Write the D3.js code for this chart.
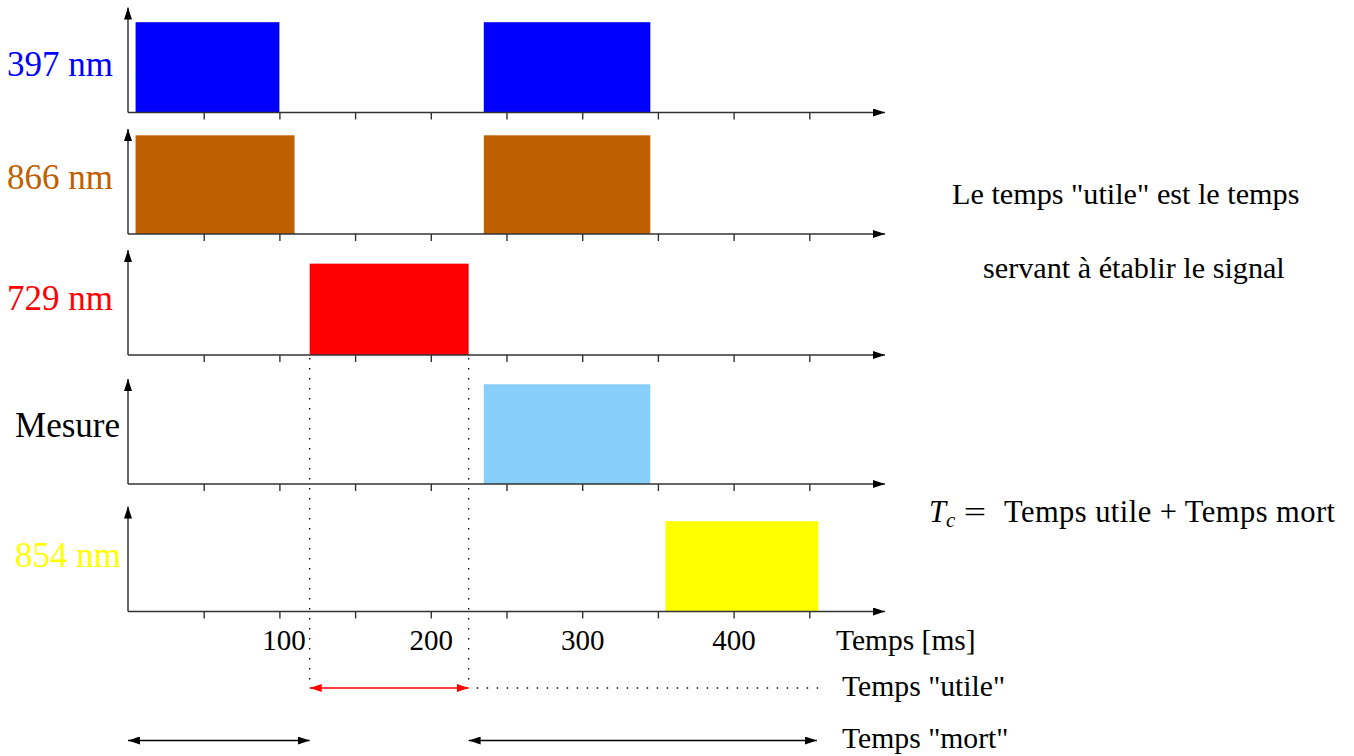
<!DOCTYPE html>
<html><head><meta charset="utf-8">
<script src="https://cdn.jsdelivr.net/npm/d3@7"></script>
<style>
html,body{margin:0;padding:0;background:#fff;}
svg{display:block;font-family:"Liberation Serif","Times New Roman",serif;}
</style></head>
<body><svg id="c" width="1354" height="756"></svg>
<script>
// ---- data ----
const channels = ["397 nm", "866 nm", "729 nm", "Mesure", "854 nm"];
const pulses397 = [[5, 100], [235, 345]];
const pulses866 = [[5, 110], [235, 345]];
const pulses729 = [[120, 225]];
const pulsesMesure = [[235, 345]];
const pulses854 = [[355, 456]];
const pulseLevels = [0.86, 0.94, 0.87, 0.95, 0.86];
const tickValues = [50, 100, 150, 200, 250, 300, 350, 400, 450];
const tickLabels = [100, 200, 300, 400];
const timeDomain = [0, 500];
const utileSpan = [120, 225];
const mortSpans = [[0, 120], [225, 455]];
const utileGuideEnd = 460;
const axisTitle = "Temps [ms]";
const utileLabel = 'Temps "utile"';
const mortLabel = 'Temps "mort"';
const noteLines = ['Le temps "utile" est le temps', 'servant à établir le signal'];
const formulaRhs = "Temps utile + Temps mort";

// ---- layout / style ----
const colors = ["#0000ff", "#bf6000", "#ff0000", "#87cefa", "#ffff00"];
const labelColors = ["#0000ff", "#bf6000", "#ff0000", "#000000", "#ffff00"];
const allPulses = [pulses397, pulses866, pulses729, pulsesMesure, pulses854];
const baselines = [112.5, 234, 355, 484, 611.5];
const panelH = 105;
const labelX = [113, 113, 113, 120, 121];
const labelDy = [-36.5, -45, -45, -47, -44.5];

const svg = d3.select("#c");
const x = d3.scaleLinear().domain(timeDomain).range([128, 885]);

const defs = svg.append("defs");
function marker(id, color, orientAuto) {
  defs.append("marker").attr("id", id)
    .attr("viewBox", "0 0 12 8").attr("refX", 12).attr("refY", 4)
    .attr("markerWidth", 12).attr("markerHeight", 8)
    .attr("markerUnits", "userSpaceOnUse")
    .attr("orient", orientAuto)
    .append("path").attr("d", "M0,0 L12,4 L0,8 Z").attr("fill", color);
}
marker("ah", "#000", "auto");
marker("ahs", "#000", "auto-start-reverse");
marker("rh", "#ff0000", "auto");
marker("rhs", "#ff0000", "auto-start-reverse");

channels.forEach((name, i) => {
  const b = baselines[i];
  const y = d3.scaleLinear().domain([0, 1]).range([b, b - panelH]);
  const g = svg.append("g");
  g.selectAll("rect").data(allPulses[i]).join("rect")
    .attr("x", d => x(d[0]))
    .attr("width", d => x(d[1]) - x(d[0]))
    .attr("y", y(pulseLevels[i]))
    .attr("height", y(0) - y(pulseLevels[i]))
    .attr("fill", colors[i]);
  const ax = d3.axisBottom(x).tickValues(tickValues).tickSize(7).tickSizeOuter(0)
    .tickFormat(d => (i === channels.length - 1 && tickLabels.includes(d)) ? d : "");
  const axg = g.append("g").attr("transform", `translate(0,${b})`).call(ax)
    .attr("font-family", '"Liberation Serif", serif').attr("font-size", 29);
  axg.select(".domain").remove();
  axg.selectAll(".tick line").attr("stroke", "#333").attr("stroke-width", 1.4);
  axg.selectAll(".tick text").attr("y", 38.5).attr("dy", null)
    .attr("dx", d => d === 100 ? 4 : 0).attr("fill", "#000");
  g.append("line").attr("x1", x(0)).attr("x2", x(timeDomain[1]))
    .attr("y1", b).attr("y2", b).attr("stroke", "#333").attr("stroke-width", 1.5)
    .attr("marker-end", "url(#ah)");
  g.append("line").attr("x1", x(0)).attr("x2", x(0))
    .attr("y1", b).attr("y2", y(1)).attr("stroke", "#333").attr("stroke-width", 1.5)
    .attr("marker-end", "url(#ah)");
  g.append("text").attr("x", labelX[i]).attr("y", b + labelDy[i])
    .attr("text-anchor", "end").attr("font-size", 35)
    .attr("fill", labelColors[i]).text(name);
});

svg.append("text").attr("x", 836).attr("y", 650).attr("font-size", 29.5).text(axisTitle);

utileSpan.forEach(t => {
  svg.append("line").attr("x1", x(t)).attr("x2", x(t))
    .attr("y1", baselines[2] + 3).attr("y2", 688)
    .attr("stroke", "#000").attr("stroke-width", 1.3).attr("stroke-dasharray", "1.5,8.5");
});
svg.append("line").attr("x1", x(utileSpan[1]) + 8).attr("x2", x(utileGuideEnd) + 2)
  .attr("y1", 688).attr("y2", 688)
  .attr("stroke", "#000").attr("stroke-width", 1.3).attr("stroke-dasharray", "1.5,8.5");

svg.append("line").attr("x1", x(utileSpan[0])).attr("x2", x(utileSpan[1]))
  .attr("y1", 688).attr("y2", 688).attr("stroke", "#ff0000").attr("stroke-width", 1.5)
  .attr("marker-start", "url(#rhs)").attr("marker-end", "url(#rh)");

mortSpans.forEach(s => {
  svg.append("line").attr("x1", x(s[0])).attr("x2", x(s[1]))
    .attr("y1", 740.5).attr("y2", 740.5).attr("stroke", "#000").attr("stroke-width", 1.5)
    .attr("marker-start", "url(#ahs)").attr("marker-end", "url(#ah)");
});

svg.append("text").attr("x", 842).attr("y", 696).attr("font-size", 29.7).text(utileLabel);
svg.append("text").attr("x", 842).attr("y", 748).attr("font-size", 29.7).text(mortLabel);

svg.append("text").attr("x", 952).attr("y", 204).attr("font-size", 30.2).text(noteLines[0]);
svg.append("text").attr("x", 983).attr("y", 278).attr("font-size", 30.2).text(noteLines[1]);

// formula
const f = svg.append("g").attr("font-size", 30.5);
const t1 = f.append("text").attr("x", 929).attr("y", 522);
t1.append("tspan").attr("font-style", "italic").text("T");
t1.append("tspan").attr("font-style", "italic").attr("font-size", 21).attr("dy", 5).text("c");
f.append("text").attr("transform", "translate(975,522) scale(1.3,1)")
  .attr("text-anchor", "middle").text("=");
f.append("text").attr("x", 1004).attr("y", 522)
  .attr("textLength", 331).attr("lengthAdjust", "spacing").text(formulaRhs);
</script></body></html>
